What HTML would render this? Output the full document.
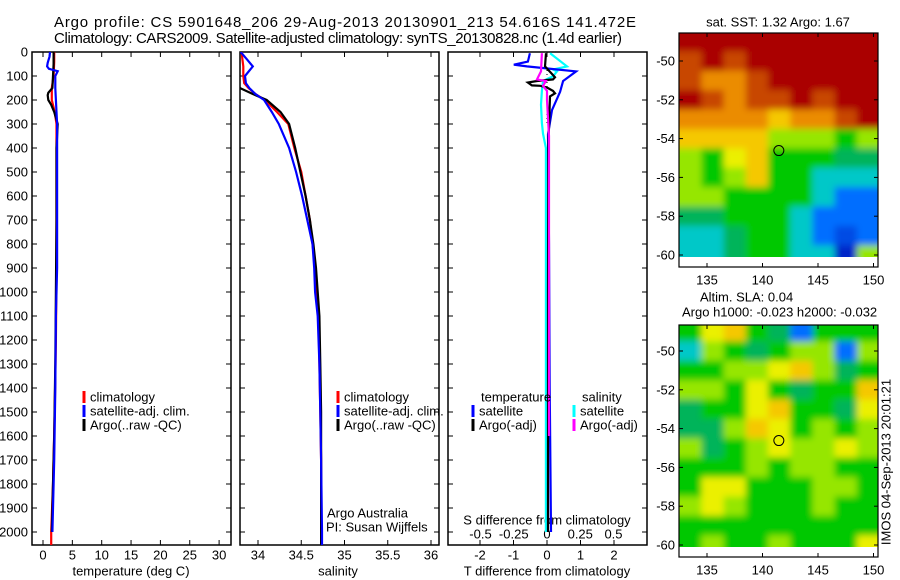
<!DOCTYPE html>
<html><head><meta charset="utf-8"><style>
html,body{margin:0;padding:0;background:#fff;}
svg{display:block;font-family:"Liberation Sans",sans-serif;}
</style></head><body>
<svg id="fig" width="900" height="580" viewBox="0 0 900 580" xmlns="http://www.w3.org/2000/svg">
<defs>
<filter id="blur" filterUnits="userSpaceOnUse" x="660" y="10" width="240" height="560"><feGaussianBlur stdDeviation="3.5"/></filter>
<clipPath id="clipMap1"><rect x="679" y="33" width="199" height="224"/></clipPath>
<clipPath id="clipMap2"><rect x="679" y="325" width="199" height="222"/></clipPath>
<clipPath id="clipP1"><rect x="32" y="52" width="199" height="493"/></clipPath>
<clipPath id="clipP2"><rect x="240" y="52" width="199" height="493"/></clipPath>
<clipPath id="clipP3"><rect x="448" y="52" width="199" height="493"/></clipPath>
</defs>
<text x="54" y="27" font-size="15" textLength="582">Argo profile: CS 5901648_206 29-Aug-2013 20130901_213 54.616S 141.472E</text>
<text x="54" y="43" font-size="15" textLength="568">Climatology: CARS2009. Satellite-adjusted climatology: synTS_20130828.nc (1.4d earlier)</text>
<g id="layer"></g>
</svg>
<script>
// ---- data ----
const depthTempClim = [0,40,100,150,200,250,300,400,600,900,1200,1500,1800,2000,2070];
const tempClim      = [1.9,1.9,1.8,1.5,1.5,2.0,2.3,2.3,2.3,2.3,2.2,2.0,1.7,1.4,1.4];
const depthTempSat  = [0,20,45,60,70,80,100,150,200,300,600,900,1100,1400,1700,2000];
const tempSat       = [1.2,1.1,0.8,0.7,1.0,2.5,2.1,2.1,2.2,2.4,2.4,2.4,2.2,2.1,1.9,1.6];
const depthTempArgo = [0,50,100,150,170,180,200,220,250,300,400,700,1000,1300,1600,1900,2000];
const tempArgo      = [1.8,1.8,1.7,1.6,0.9,0.8,0.9,1.4,1.9,2.5,2.3,2.3,2.2,2.1,1.9,1.6,1.5];

const depthSal  = [0,30,60,100,130,150,175,200,250,300,400,500,600,700,800,900,1000,1100,1300,1500,1700,2000,2070];
const salClim   = [33.81,33.82,33.83,33.83,33.84,33.89,33.97,34.08,34.22,34.35,34.42,34.50,34.55,34.60,34.63,34.66,34.68,34.70,34.71,34.72,34.73,34.73,34.73];
const salSat    = [33.80,33.87,33.94,33.85,33.86,33.90,33.97,34.07,34.16,34.24,34.36,34.44,34.51,34.57,34.63,34.65,34.66,34.69,34.71,34.72,34.73,34.74,34.74];
const salArgo   = [33.77,33.77,33.77,33.77,33.77,33.79,33.94,34.10,34.26,34.36,34.43,34.49,34.55,34.60,34.64,34.67,34.69,34.71,34.72,34.73,34.73,34.73,34.73];

const depthDiffTSat = [5,40,53,60,81,121,166,242,343,800,1400,2000];
const diffTSat      = [-0.51,-0.57,-0.99,-0.6,0.87,0.48,0.39,0.15,0.03,0.06,0.08,0.12];
const depthDiffTArgo = [5,60,105,114,121,127,139,141,148,162,172,185,400,1000,1600,2000];
const diffTArgo      = [-0.03,-0.06,0.24,0.18,-0.3,-0.57,-0.45,-0.2,0,0.18,0.24,0.09,0.04,0.03,0.03,0.03];
const depthDiffSSat = [5,60,73,81,101,121,162,219,296,340,400,1000,2000];
const diffSSat      = [0.023,0.15,0.045,0.075,0.045,-0.03,-0.038,-0.045,-0.038,-0.03,-0.008,-0.008,-0.008];
const depthDiffSArgo = [5,81,114,121,141,162,200,351,800,1600];
const diffSArgo      = [-0.038,-0.045,-0.075,-0.008,-0.03,0,0,0.015,0.015,0.015];

const depthTicks = [0,100,200,300,400,500,600,700,800,900,1000,1100,1200,1300,1400,1500,1600,1700,1800,1900,2000];
const tempTicks = [0,5,10,15,20,25,30];
const salTicks = ["34","34.5","35","35.5","36"];
const tdiffTicks = ["-2","-1","0","1","2"];
const sdiffTicks = ["-0.5","-0.25","0","0.25","0.5"];
const lonTicks = [135,140,145,150];
const latTicks = [-50,-52,-54,-56,-58,-60];

const mapLons = [133.5,135.5,137.5,139.5,141.5,143.5,145.5,147.5,149.5];
const mapLats = [-49,-50,-51,-52,-53,-54,-55,-56,-57,-58,-59,-60];
const sstGrid = [
 [9,9,9,9,9,9,9,9,9],
 [8,9,8,9,9,9,9,9,9],
 [8,7,7,8,9,9,9,9,9],
 [9,8,7,8,8,9,8,9,9],
 [7,7,7,7,6,7,7,8,9],
 [6,6,6,6,4,4,4,3,4],
 [4,3,5,6,3,3,3,2,2],
 [4,3,4,6,3,3,1,1,1],
 [4,4,3,3,3,3,1,0,0],
 [2,2,3,3,3,1,0,0,0],
 [1,1,2,3,3,1,0,-0.5,0],
 [1,1,2,3,3,1,1,-1,4]];
const slaGrid = [
 [3,5,6,3,2,0,3,3,3],
 [1,4,3,2,3,4,4,0,4],
 [3,3,4,4,5,6,4,2,3],
 [4,4,3,5,3,2,3,3,6],
 [2,3,3,5,6,3,3,2,5],
 [2,2,4,6,5,3,4,3,4],
 [4,2,3,4,5,4,4,5,4],
 [3,3,3,4,3,4,4,3,3],
 [3,5,5,3,3,3,4,4,3],
 [4,5,4,3,3,3,4,3,3],
 [3,3,3,3,3,3,3,3,3],
 [3,4,3,3,4,3,3,3,5]];
const argoLon = 141.472, argoLat = -54.616;

// ---- scales ----
const yDepth = d => 52 + d*0.24;
const xTemp = t => 43 + t*5.87;
const xSal = s => 258 + (s-34)*86.5;
const xTd = t => 547 + t*33.5;
const xSd = s => 547 + s*133;
const xLon = l => 707 + (l-135)*11.1;
const yLat1 = a => 61 + (-50-a)*19.4;
const yLat2 = a => 351 + (-50-a)*19.4;
const NS='http://www.w3.org/2000/svg';
const layer=document.getElementById('layer');
function mk(tag,attrs,parent){const e=document.createElementNS(NS,tag);for(const k in attrs)e.setAttribute(k,attrs[k]);(parent||layer).appendChild(e);return e;}
function txt(x,y,s,anchor,size,parent){const t=mk('text',{x:x,y:y,'font-size':size||13,'text-anchor':anchor||'start','dominant-baseline':'central'},parent);t.textContent=s;return t;}

function panel(x0,name){
  const g=mk('g',{});
  
  
  const r=mk('rect',{x:x0,y:52,width:199,height:493,fill:'none',stroke:'#000','stroke-width':1.5},g);
  
  
  depthTicks.forEach(d=>{const y=yDepth(d);mk('line',{x1:x0,x2:x0+5,y1:y,y2:y,stroke:'#000'},g);mk('line',{x1:x0+199,x2:x0+194,y1:y,y2:y,stroke:'#000'},g);});
  return g;
}
function vticks(g,xs){xs.forEach(x=>{mk('line',{x1:x,x2:x,y1:52,y2:57,stroke:'#000'},g);mk('line',{x1:x,x2:x,y1:545,y2:540,stroke:'#000'},g);});}
function profile(g,xs,ds,xf,color,name,clip,w){
  const pts=xs.map((v,i)=>xf(v).toFixed(1)+','+yDepth(ds[i]).toFixed(1)).join(' ');
  const p=mk('polyline',{points:pts,fill:'none',stroke:color,'stroke-width':w||2.2,'clip-path':'url(#'+clip+')'},g);
  
  
}
function legend(g,x,y,color,label){
  mk('rect',{x:x-1.5,y:y-6,width:3,height:12,fill:color},g);
  const t=txt(x+6,y,label,'start',13,g);
  
  
}

const yax=mk('g',{});


depthTicks.forEach(d=>txt(28,yDepth(d),String(d),'end',13,yax));

const g1=panel(32,'temperature-panel');
vticks(g1,tempTicks.map(xTemp));
tempTicks.forEach(t=>txt(xTemp(t),555,String(t),'middle',13,g1));
txt(131,571,'temperature (deg C)','middle',13,g1);
profile(g1,tempClim,depthTempClim,xTemp,'#f00','temp-climatology-line','clipP1');
profile(g1,tempArgo,depthTempArgo,xTemp,'#000','temp-argo-line','clipP1');
profile(g1,tempSat,depthTempSat,xTemp,'#00f','temp-satellite-line','clipP1');
legend(g1,84,397,'#f00','climatology');
legend(g1,84,411,'#00f','satellite-adj. clim.');
legend(g1,84,425,'#000','Argo(..raw -QC)');

const g2=panel(240,'salinity-panel');
vticks(g2,salTicks.map(s=>xSal(+s)));
salTicks.forEach(s=>txt(xSal(+s),555,s,'middle',13,g2));
txt(338,571,'salinity','middle',13,g2);
profile(g2,salClim,depthSal,xSal,'#f00','sal-climatology-line','clipP2');
profile(g2,salArgo,depthSal,xSal,'#000','sal-argo-line','clipP2');
profile(g2,salSat,depthSal,xSal,'#00f','sal-satellite-line','clipP2');
legend(g2,338,397,'#f00','climatology');
legend(g2,338,411,'#00f','satellite-adj. clim.');
legend(g2,338,425,'#000','Argo(..raw -QC)');
txt(327,513,'Argo Australia','start',13,g2);
txt(326,527,'PI: Susan Wijffels','start',13,g2);

const g3=panel(448,'difference-panel');
vticks(g3,tdiffTicks.map(t=>xTd(+t)));
tdiffTicks.forEach(t=>txt(xTd(+t),555,t,'middle',13,g3));
sdiffTicks.forEach(s=>txt(xSd(+s),534,s,'middle',13,g3));
txt(547,520,'S difference from climatology','middle',13,g3);
txt(547,571,'T difference from climatology','middle',13,g3);
mk('line',{x1:547,x2:547,y1:70,y2:125,stroke:'#000','stroke-dasharray':'1,3'},g3);
profile(g3,diffSSat,depthDiffSSat,xSd,'#0ff','sdiff-satellite-line','clipP3');
profile(g3,diffTSat,depthDiffTSat,xTd,'#00f','tdiff-satellite-line','clipP3');
profile(g3,diffTArgo,depthDiffTArgo,xTd,'#000','tdiff-argo-line','clipP3');
profile(g3,diffSArgo,depthDiffSArgo,xSd,'#f0f','sdiff-argo-line','clipP3');
txt(481,397,'temperature','start',13,g3);
txt(582,397,'salinity','start',13,g3);
legend(g3,473,411,'#00f','satellite');
legend(g3,473,425,'#000','Argo(-adj)');
legend(g3,574,411,'#0ff','satellite');
legend(g3,574,425,'#f0f','Argo(-adj)');

const cmapStops=[[-1,[0,40,200]],[0,[0,110,255]],[1,[0,200,200]],[2,[0,180,90]],[3,[0,200,0]],[4,[150,230,0]],[5,[235,240,0]],[6,[245,200,0]],[7,[235,140,0]],[8,[200,70,0]],[9,[170,0,0]]];
function cmap(v){
  for(let i=0;i<cmapStops.length-1;i++){const a=cmapStops[i],b=cmapStops[i+1];
    if(v<=b[0]){const f=Math.max(0,(v-a[0])/(b[0]-a[0]));return 'rgb('+a[1].map((c,k)=>Math.round(c+(b[1][k]-c)*f)).join(',')+')';}}
  return 'rgb(170,0,0)';
}
function map(grid,yLat,clip,name,top,bottom){
  const g=mk('g',{});
  
  
  const cg=mk('g',{'clip-path':'url(#'+clip+')'},g);
  const bg=mk('g',{filter:'url(#blur)'},cg);
  grid.forEach((row,i)=>row.forEach((v,j)=>{
    let x0=xLon(mapLons[j]-1),x1=xLon(mapLons[j]+1);
    let y0=yLat(mapLats[i]+0.5),y1=yLat(mapLats[i]-0.5);
    if(j===0)x0-=12; if(j===row.length-1)x1+=12;
    if(i===0)y0-=12;
    const c=mk('rect',{x:x0,y:y0,width:x1-x0+0.5,height:y1-y0+0.5,fill:cmap(v)},bg);
    
    
  }));
  const fr=mk('rect',{x:679,y:top,width:199,height:bottom-top,fill:'none',stroke:'#000','stroke-width':1.2},g);
  
  
  lonTicks.forEach(l=>{const x=xLon(l);mk('line',{x1:x,x2:x,y1:top,y2:top+4,stroke:'#000'},g);mk('line',{x1:x,x2:x,y1:bottom,y2:bottom-4,stroke:'#000'},g);txt(x,bottom+13,String(l),'middle',13,g);});
  latTicks.forEach(a=>{const y=yLat(a);mk('line',{x1:679,x2:683,y1:y,y2:y,stroke:'#000'},g);mk('line',{x1:878,x2:874,y1:y,y2:y,stroke:'#000'},g);txt(675,y,String(a),'end',13,g);});
  const m=mk('circle',{cx:xLon(argoLon),cy:yLat(argoLat),r:5,fill:'none',stroke:'#000','stroke-width':1},g);
  
  
  return g;
}
const m1=map(sstGrid,yLat1,'clipMap1','sst-map',33,267);
txt(778,22,'sat. SST: 1.32 Argo: 1.67','middle',13,m1);
const m2=map(slaGrid,yLat2,'clipMap2','sla-map',325,557);
txt(700,297,'Altim. SLA: 0.04','start',13,m2);
txt(682,312,'Argo h1000: -0.023 h2000: -0.032','start',13,m2);
const st=mk('text',{x:0,y:0,'font-size':13,'text-anchor':'middle','dominant-baseline':'central',transform:'translate(886,462) rotate(-90)'});
st.textContent='IMOS 04-Sep-2013 20:01:21';


</script>
</body></html>
